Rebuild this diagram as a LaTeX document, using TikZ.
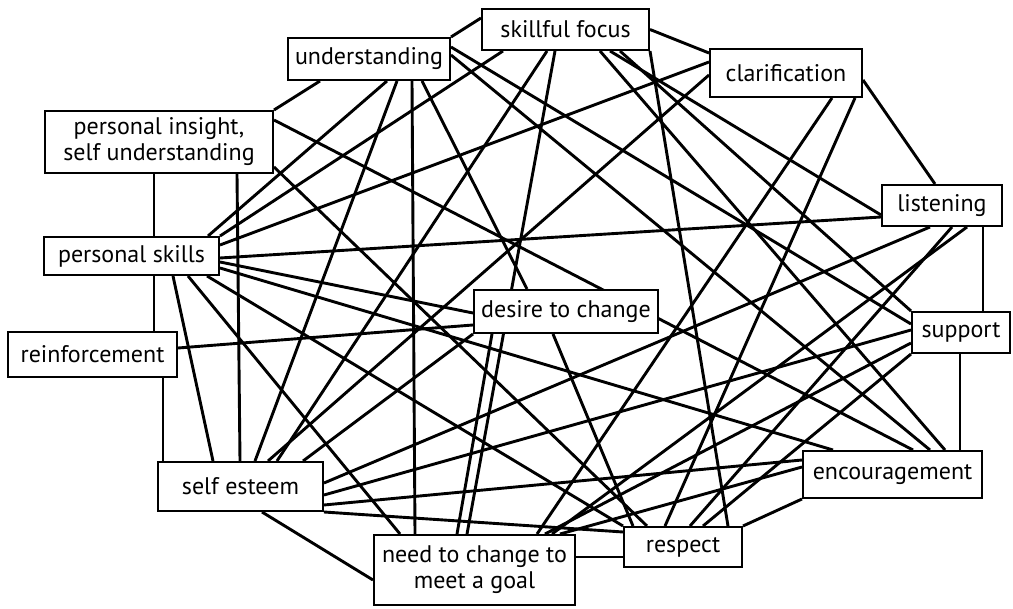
\documentclass[tikz,border=0pt]{standalone}
\usepackage{fontspec}
\setsansfont{PT Sans}
\usetikzlibrary{backgrounds}

\begin{document}
\begin{tikzpicture}[x=1pt, y=-1pt,
    box/.style={draw, line width=2pt, fill=white, inner sep=0pt, align=center,
        font=\sffamily\fontsize{24}{26}\selectfont},
    link/.style={line width=2.9pt}]
    \useasboundingbox (0,0) rectangle (1013,609);

    % boxes
    \node[box, minimum width=167pt, minimum height=41pt] (focus) at (565.5,29.5) {skillful focus};
    \node[box, minimum width=162pt, minimum height=42pt] (underst) at (369,59) {understanding};
    \node[box, minimum width=152pt, minimum height=48pt] (clarif) at (786,73) {clarification};
    \node[box, minimum width=228pt, minimum height=62pt] (insight) at (159,142) {personal insight,\\ self understanding};
    \node[box, minimum width=120pt, minimum height=41pt] (listen) at (942,205.5) {listening};
    \node[box, minimum width=175pt, minimum height=38pt] (skills) at (131.5,256) {personal skills};
    \node[box, minimum width=184pt, minimum height=43pt] (desire) at (566,311.5) {desire to change};
    \node[box, minimum width=169pt, minimum height=45pt] (reinf) at (92.5,354.5) {reinforcement};
    \node[box, minimum width=98pt, minimum height=41pt] (support) at (961,332.5) {support};
    \node[box, minimum width=165pt, minimum height=49pt] (esteem) at (240.5,486.5) {self esteem};
    \node[box, minimum width=179pt, minimum height=47pt] (encour) at (892.5,474.5) {encouragement};
    \node[box, minimum width=118pt, minimum height=40pt] (respect) at (683,547) {respect};
    \node[box, minimum width=201pt, minimum height=70pt] (need) at (474.5,570) {need to change to\\ meet a goal};

    \begin{pgfonlayer}{background}
    \fill[white] (0,0) rectangle (1013,609);

    % skillful focus
    \draw[link] ([yshift=11.5pt]focus.west) -- (underst.north east);
    \draw[link] (focus.east) -- ([yshift=20pt]clarif.west);
    \draw[link] ([xshift=-62.5pt]focus.south) -- (skills.north east);
    \draw[link] ([xshift=-18.5pt]focus.south) -- ([xshift=36.5pt]esteem.north);
    \draw[link] ([xshift=-10.5pt]focus.south) -- ([xshift=-7.5pt]need.north);
    \draw[link] (focus.south east) -- ([xshift=45pt]respect.north);
    \draw[link] ([xshift=34.5pt]focus.south) -- ([xshift=52.5pt]encour.north);
    \draw[link] ([xshift=54.5pt]focus.south) -- (support.north west);
    \draw[link] ([xshift=44.5pt]focus.south) -- ([yshift=-9.5pt]listen.west);

    % understanding
    \draw[link] ([xshift=-49pt]underst.south) -- (insight.north east);
    \draw[link] ([xshift=18pt]underst.south) -- ([xshift=76.5pt]skills.north);
    \draw[link] ([xshift=28pt]underst.south) -- ([xshift=14.5pt]esteem.north);
    \draw[link] ([xshift=43pt]underst.south) -- ([xshift=-59.5pt]need.north);
    \draw[link] ([xshift=53pt]underst.south) -- ([xshift=-39pt]desire.north);
    \draw[link] ([yshift=12pt]underst.east) -- ([yshift=8.5pt]support.west);
    \draw[link] ([yshift=4pt]underst.east) -- ([xshift=37.5pt]encour.north);

    % clarification
    \draw[link] ([yshift=-7pt]clarif.east) -- ([xshift=-7pt]listen.north);
    \draw[link] ([yshift=11pt]clarif.west) -- ([yshift=11pt]skills.east);
    \draw[link] ([yshift=-2pt]clarif.west) -- ([xshift=27.5pt]esteem.north);
    \draw[link] ([xshift=46pt]clarif.south) -- ([xshift=62.5pt]need.north);
    \draw[link] ([xshift=69pt]clarif.south) -- ([xshift=-18pt]respect.north);

    % listening
    \draw[link] ([yshift=-11.5pt]listen.west) -- ([yshift=-2pt]skills.east);
    \draw[link] ([xshift=-12pt]listen.south) -- ([yshift=3.5pt]esteem.east);
    \draw[link] ([xshift=10pt]listen.south) -- ([xshift=7pt]respect.north);
    \draw[link] ([xshift=25pt]listen.south) -- ([xshift=77.5pt]need.north);
    \draw[link] ([xshift=41pt]listen.south) -- ([xshift=22pt]support.north);

    % support
    \draw[link] ([xshift=-1pt]support.south) -- ([xshift=67.5pt]encour.north);
    \draw[link] ([yshift=2.5pt]support.west) -- ([yshift=-8.5pt]esteem.east);
    \draw[link] ([yshift=-10.5pt]support.west) -- ([xshift=70.5pt]need.north);
    \draw[link] (support.south west) -- ([xshift=20pt]respect.north);

    % encouragement
    \draw[link] (encour.south west) -- (respect.north east);
    \draw[link] ([yshift=14.5pt]encour.west) -- ([yshift=-18.5pt]esteem.east);
    \draw[link] ([yshift=7.5pt]encour.west) -- ([xshift=85.5pt]need.north);
    \draw[link] ([xshift=-59.5pt]encour.north) -- ([yshift=-12pt]skills.east);
    \draw[link] ([xshift=20.5pt]encour.north) -- ([yshift=22pt]insight.east);

    % respect
    \draw[link] ([yshift=-10pt]respect.west) -- ([yshift=13pt]need.east);
    \draw[link] ([yshift=15pt]respect.west) -- (esteem.south east);
    \draw[link] ([xshift=-36pt]respect.north) -- ([yshift=-25pt]insight.east);
    \draw[link] ([xshift=-50pt]respect.north) -- ([xshift=-13pt]desire.south);
    \draw[link] (respect.north west) -- ([xshift=75.5pt]skills.south);

    % need to change
    \draw[link] ([yshift=-10pt]need.west) -- ([xshift=21.5pt]esteem.south);
    \draw[link] ([xshift=-74.5pt]need.north) -- ([xshift=56.5pt]skills.south);
    \draw[link] ([xshift=-17.5pt]need.north) -- ([xshift=-74pt]desire.south);

    % self esteem
    \draw[link] ([xshift=-0.5pt]esteem.north) -- ([xshift=78pt]insight.south);
    \draw[link] ([xshift=-27.5pt]esteem.north) -- ([xshift=41.5pt]skills.south);
    \draw[link] ([xshift=-77.5pt]esteem.north) -- ([xshift=70.5pt]reinf.south);
    \draw[link] ([xshift=62.5pt]esteem.north) -- (desire.south west);

    % left side
    \draw[link] ([xshift=-5pt]insight.south) -- ([xshift=22.5pt]skills.north);
    \draw[link] ([xshift=22.5pt]skills.south) -- ([xshift=61.5pt]reinf.north);
    \draw[link] ([yshift=-6pt]skills.east) -- ([yshift=-1.5pt]desire.west);
    \draw[link] ([yshift=6.5pt]reinf.east) -- ([yshift=-13.5pt]desire.west);
    \end{pgfonlayer}
\end{tikzpicture}
\end{document}
